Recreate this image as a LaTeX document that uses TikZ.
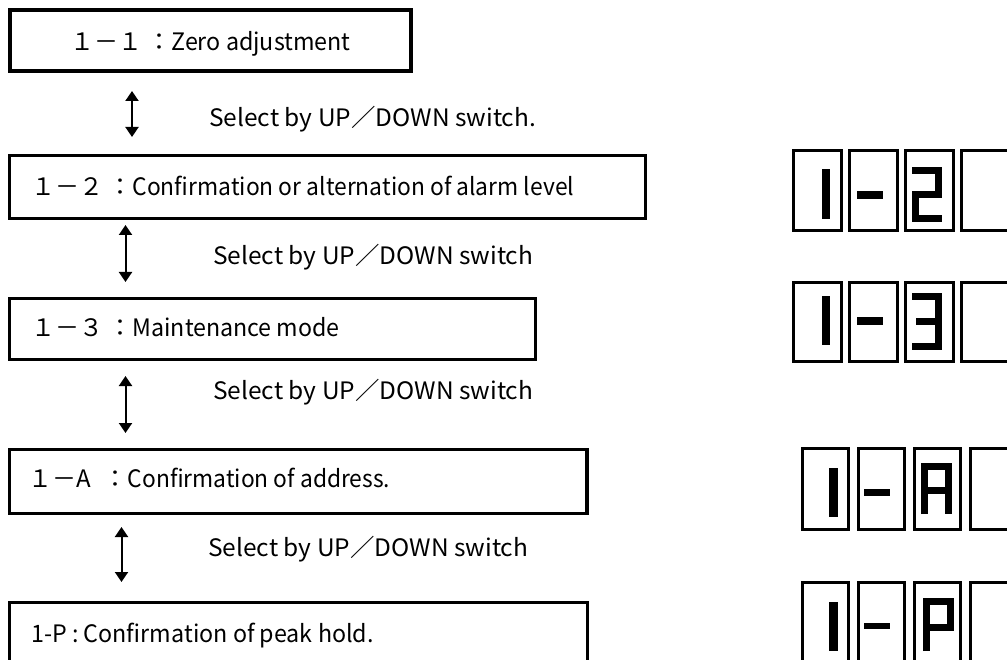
\documentclass[tikz,border=0pt]{standalone}
\usepackage{graphicx}
\usepackage{fontspec}
\newfontfamily\jp{Noto Sans CJK JP}
\newcommand\sqz[2]{\scalebox{#1}[1]{#2}}
\usetikzlibrary{arrows.meta}
\begin{document}
\begin{tikzpicture}[x=1pt,y=-1pt,
  box/.style={draw=black,line width=3pt,inner sep=0pt,fill=none},
  lbl/.style={anchor=base west,inner sep=0pt,font=\jp\fontsize{24}{28}\selectfont},
  updown/.style={line width=2pt,{Triangle[width=13pt,length=10pt]}-{Triangle[width=13pt,length=10pt]}},
  cell/.style={draw=black,line width=3pt},
  seg/.style={draw=black,line width=7pt,line join=miter,line cap=butt},
]
\useasboundingbox (0,0) rectangle (1007,660);
\clip (0,0) rectangle (1007,660);
% boxes
\node[box,line width=4pt,minimum width=401pt,minimum height=61pt] (b1) at (210.5,40.5) {};
\node[box,minimum width=635.5pt,minimum height=62.5pt] (b2) at (327.25,187.25) {};
\node[box,minimum width=525.5pt,minimum height=61.5pt] (b3) at (272.25,329.25) {};
\node[box,line width=3.5pt,minimum width=577.5pt,minimum height=64pt] (b4) at (298.25,481.5) {};
\node[box,minimum width=577.5pt,minimum height=64pt] (b5) at (298.25,634) {};
% box texts
\node[lbl] (t1) at (70,50.5) {１－１ ：\sqz{0.97}{Zero adjustment}};
\node[lbl] (t2) at (31,195.5) {１－２ ：\sqz{0.952}{Confirmation or alternation of alarm level}};
\node[lbl] (t3) at (31,336.5) {１－３ ：\sqz{0.967}{Maintenance mode}};
\node[lbl] (t4) at (28,487) {１－A\hspace{13pt}：\sqz{0.95}{Confirmation of address.}};
\node[lbl] (t5) at (31,642.5) {\sqz{0.97}{1-P : Confirmation of peak hold.}};
% select labels
\node[lbl] (l1) at (209,126.5) {\sqz{1.02}{Select by UP／DOWN switch.}};
\node[lbl] (l2) at (213,264.5) {\sqz{1.02}{Select by UP／DOWN switch}};
\node[lbl] (l3) at (213,399.5) {\sqz{1.02}{Select by UP／DOWN switch}};
\node[lbl] (l4) at (208,556.5) {\sqz{1.02}{Select by UP／DOWN switch}};
% arrows
\coordinate (a1t) at (132,91); \coordinate (a1b) at (132,137);
\coordinate (a2t) at (125.5,225); \coordinate (a2b) at (125.5,282);
\coordinate (a3t) at (125.5,376); \coordinate (a3b) at (125.5,433);
\coordinate (a4t) at (121.5,527); \coordinate (a4b) at (121.5,582);
\draw[updown] (a1t) -- (a1b);
\draw[updown] (a2t) -- (a2b);
\draw[updown] (a3t) -- (a3b);
\draw[updown] (a4t) -- (a4b);
% display 1 : 1-2
\foreach \xa/\xb in {792/843,848/899,904/955,960/1012}
  \draw[cell] (\xa+1.5,150.5) rectangle (\xb-1.5,230.5);
\fill (822,169) rectangle (830,219);
\fill (857,191) rectangle (883,199);
\draw[seg] (912,170.5) -- (938.5,170.5) -- (938.5,194.5) -- (915.5,194.5) -- (915.5,218.5) -- (942,218.5);
% display 2 : 1-3
\foreach \xa/\xb in {792/843,848/899,904/955,960/1012}
  \draw[cell] (\xa+1.5,282.5) rectangle (\xb-1.5,361.5);
\fill (822,296) rectangle (830,345);
\fill (857,317) rectangle (883,325);
\draw[seg] (912,296.5) -- (938.5,296.5) -- (938.5,346.5) -- (912,346.5);
\draw[seg] (916,321.5) -- (938.5,321.5);
% display 3 : 1-A
\foreach \xa/\xb in {801/850,857/906,913/962,969/1018}
  \draw[cell] (\xa+1.5,448.5) rectangle (\xb-1.5,529.5);
\fill (829,468) rectangle (838,517);
\fill (864,489) rectangle (890,496);
\draw[seg] (924.5,514) -- (924.5,466.5) -- (948.5,466.5) -- (948.5,514);
\draw[seg] (924.5,490) -- (948.5,490);
% display 4 : 1-P
\foreach \xa/\xb in {801/850,857/906,913/962,969/1018}
  \draw[cell] (\xa+1.5,582.5) rectangle (\xb-1.5,663.5);
\fill (829,602) rectangle (838,651);
\fill (864,623) rectangle (890,629);
\draw[seg] (926.5,651) -- (926.5,601.5) -- (950.5,601.5) -- (950.5,627.5) -- (926.5,627.5);
\end{tikzpicture}
\end{document}
